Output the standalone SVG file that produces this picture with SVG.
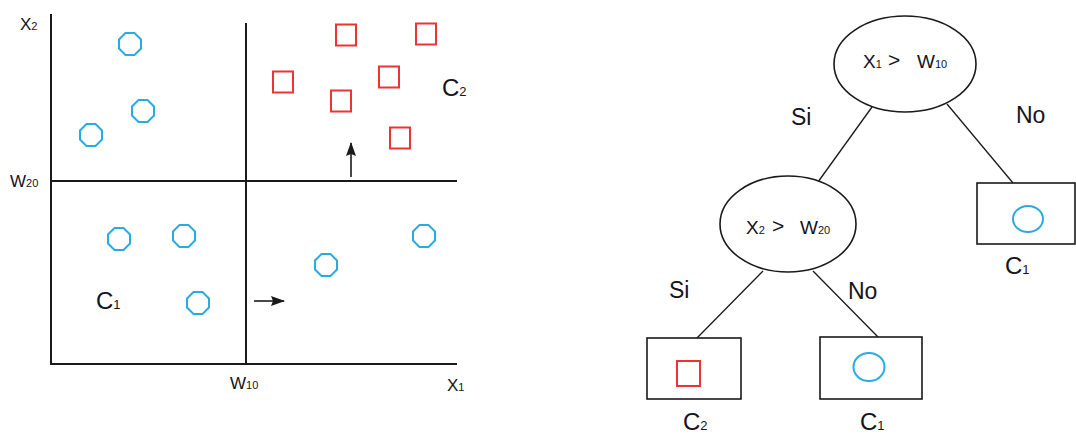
<svg xmlns="http://www.w3.org/2000/svg" width="1076" height="434" viewBox="0 0 1076 434">
<style>
.ax{stroke:#1a1a1a;stroke-width:2;fill:none}
.ln{stroke:#1a1a1a;stroke-width:1.3;fill:none}
.bx{stroke:#1a1a1a;stroke-width:1.6;fill:#fff}
.c{stroke:#29abe2;stroke-width:2;fill:none}
.s{stroke:#ee3333;stroke-width:2;fill:none}
text{font-family:"Liberation Sans",Arial,sans-serif;fill:#141420}
.t{font-size:17px}
.et{font-size:19px}
.tb{font-size:24px}
.lab{font-size:23px}
.sb{font-size:11px}
.sbb{font-size:13px}
.gt{font-size:21px}
</style>
<defs>
<polygon id="oct" points="-4.5,-11 4.5,-11 11,-4.5 11,4.5 4.5,11 -4.5,11 -11,4.5 -11,-4.5"/>
<rect id="sq" x="-10" y="-10.5" width="20" height="21"/>
<marker id="ah" markerWidth="14" markerHeight="10" refX="13" refY="5" orient="auto" markerUnits="userSpaceOnUse" viewBox="0 0 14 10">
<path d="M0,0 L14,5 L0,10 L2,5 Z" fill="#1a1a1a"/>
</marker>
</defs>

<g id="plot">
<line class="ax" x1="51" y1="14" x2="51" y2="365"/>
<line class="ax" x1="50" y1="364" x2="457" y2="364"/>
<line class="ax" x1="246" y1="23" x2="246" y2="364"/>
<line class="ax" x1="51" y1="181" x2="457" y2="181"/>
<text class="t" x="20" y="30">X<tspan class="sb">2</tspan></text>
<text class="t" x="10" y="187">W<tspan class="sb">20</tspan></text>
<text class="t" x="230" y="389">W<tspan class="sb">10</tspan></text>
<text class="t" x="447" y="391">X<tspan class="sb">1</tspan></text>
<text class="tb" x="96" y="309">C<tspan class="sbb">1</tspan></text>
<text class="tb" x="442" y="96">C<tspan class="sbb">2</tspan></text>
<g class="c">
<use href="#oct" x="130" y="44"/>
<use href="#oct" x="143" y="111"/>
<use href="#oct" x="91" y="135"/>
<use href="#oct" x="119" y="239"/>
<use href="#oct" x="184" y="236"/>
<use href="#oct" x="198" y="303"/>
<use href="#oct" x="326" y="265"/>
<use href="#oct" x="424" y="236"/>
</g>
<g class="s">
<use href="#sq" x="346" y="35"/>
<use href="#sq" x="426" y="34"/>
<use href="#sq" x="283" y="82"/>
<use href="#sq" x="389" y="77"/>
<use href="#sq" x="341" y="101"/>
<use href="#sq" x="400" y="138"/>
</g>
<line x1="351" y1="177" x2="351" y2="143" stroke="#1a1a1a" stroke-width="1.6" marker-end="url(#ah)"/>
<line x1="254" y1="301" x2="284" y2="301" stroke="#1a1a1a" stroke-width="1.6" marker-end="url(#ah)"/>
</g>

<g id="connectors">
<line class="ln" x1="872" y1="107" x2="818" y2="182"/>
<line class="ln" x1="947" y1="104" x2="1013" y2="183"/>
<line class="ln" x1="763" y1="271" x2="697" y2="338"/>
<line class="ln" x1="813" y1="271" x2="878" y2="337"/>
<text class="lab" x="791" y="125">Si</text>
<text class="lab" x="1016" y="123">No</text>
<text class="lab" x="669" y="298">Si</text>
<text class="lab" x="848" y="299">No</text>
</g>

<g id="root">
<ellipse class="bx" cx="905" cy="64" rx="71" ry="48"/>
<text class="et" y="68"><tspan x="863">X</tspan><tspan class="sb">1</tspan><tspan class="gt" x="888" y="67">&gt;</tspan><tspan x="917" y="68">W</tspan><tspan class="sb">10</tspan></text>
</g>

<g id="n2">
<ellipse class="bx" cx="788" cy="224" rx="68" ry="48"/>
<text class="et" y="234"><tspan x="746">X</tspan><tspan class="sb">2</tspan><tspan class="gt" x="772" y="233">&gt;</tspan><tspan x="800" y="234">W</tspan><tspan class="sb">20</tspan></text>
</g>

<g id="leafR">
<rect class="bx" x="977" y="183" width="98" height="61"/>
<ellipse class="c" cx="1028" cy="219" rx="15" ry="13"/>
<text class="tb" x="1005" y="274">C<tspan class="sbb">1</tspan></text>
</g>

<g id="leafC2">
<rect class="bx" x="647" y="338" width="94" height="61"/>
<rect class="s" x="677" y="361" width="23" height="25"/>
<text class="tb" x="683" y="430">C<tspan class="sbb">2</tspan></text>
</g>

<g id="leafC1">
<rect class="bx" x="820" y="337" width="102" height="62"/>
<ellipse class="c" cx="869" cy="367" rx="15.5" ry="14"/>
<text class="tb" x="860" y="430">C<tspan class="sbb">1</tspan></text>
</g>
</svg>
